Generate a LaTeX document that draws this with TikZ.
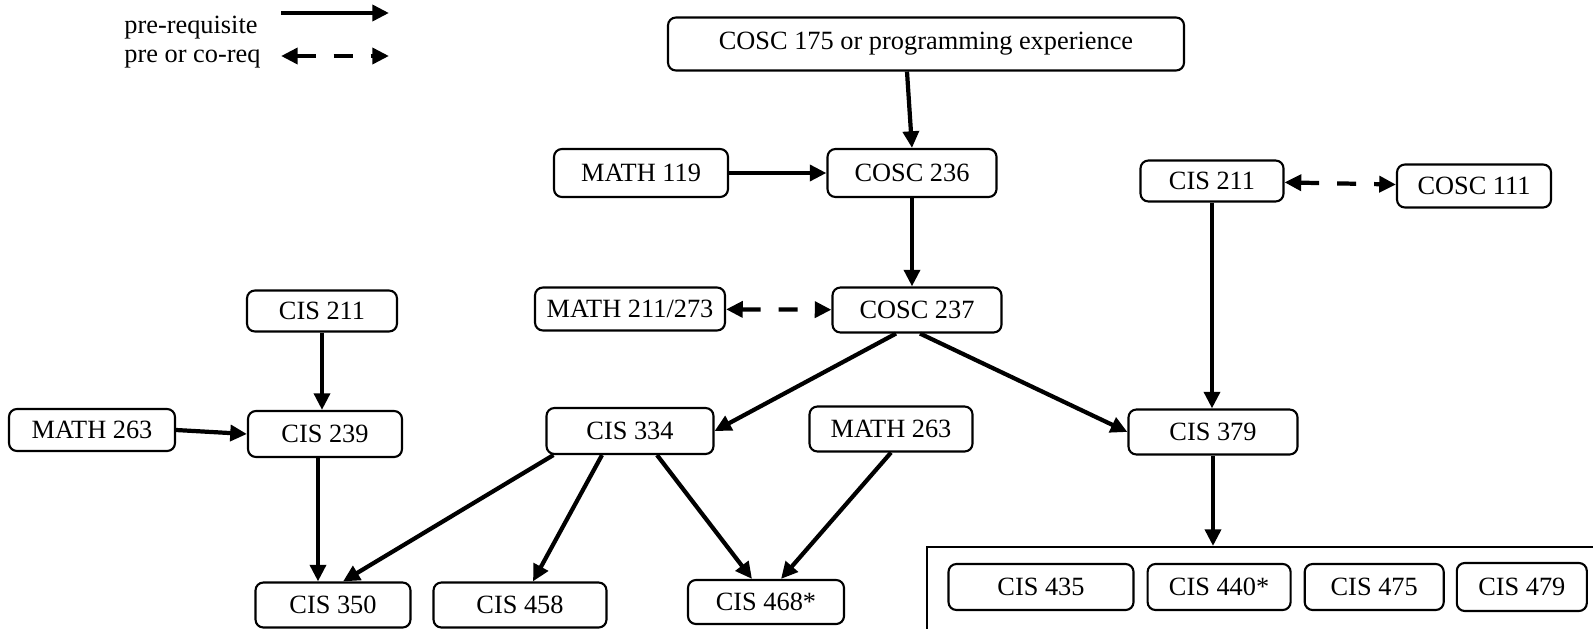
\documentclass[tikz,border=0pt]{standalone}
\usepackage{fontspec}
\setmainfont{Liberation Serif}
\usetikzlibrary{arrows.meta,positioning,calc}

\tikzset{
  course/.style 2 args={draw, rounded corners=4.5pt, line width=1.2pt, inner sep=0pt,
    minimum width=#1*0.02cm, minimum height=#2*0.02cm},
  group/.style={draw, line width=1.2pt, inner sep=0pt},
  prereq/.style={-{Triangle[length=9.5pt,width=9pt]}, line width=2.4pt},
  coreq/.style={{Triangle[length=9.5pt,width=9pt]}-{Triangle[length=9.5pt,width=9pt]},
    line width=2.4pt, dash pattern=on 0.38cm off 0.36cm},
}

\begin{document}
\begin{tikzpicture}[x=0.02cm, y=-0.02cm, font=\fontsize{15}{18}\selectfont]
  \useasboundingbox (0,0) rectangle (1593,629);

  % legend
  \node[anchor=west, inner sep=0pt] (legpre) at (124,28) {pre-requisite};
  \node[anchor=west, inner sep=0pt] (legco) at (124,59) {pre or co-req};
  \coordinate (legpreA) at (281,13);
  \coordinate (legpreB) at (389,13);
  \coordinate (legcoA) at (281,56);
  \coordinate (legcoB) at (389,56);
  \draw[prereq] (legpreA) -- (legpreB);
  \draw[coreq] (legcoA) -- (legcoB);

  % courses
  \node[course={516}{53}] (c175) at (926,44) {COSC 175 or programming experience};
  \node[course={174}{48}] (m119) at (641,173) {MATH 119};
  \node[course={169}{48}] (c236) at (912,173) {COSC 236};
  \node[course={143}{41}] (cis211r) at (1212,181) {CIS 211};
  \node[course={154}{43}] (c111) at (1474,186) {COSC 111};
  \node[course={190}{43}] (m211) at (630,309) {MATH 211/273};
  \node[course={169}{45}] (c237) at (917,310) {COSC 237};
  \node[course={150}{41}] (cis211l) at (322,311) {CIS 211};
  \node[course={166}{42}] (m263l) at (92,430) {MATH 263};
  \node[course={154}{46}] (cis239) at (325,434) {CIS 239};
  \node[course={167}{46}] (cis334) at (630,431) {CIS 334};
  \node[course={163}{45}] (m263m) at (891,429) {MATH 263};
  \node[course={169}{45}] (cis379) at (1213,432) {CIS 379};
  \node[course={155}{45}] (cis350) at (333,605) {CIS 350};
  \node[course={173}{45}] (cis458) at (520,605) {CIS 458};
  \node[course={156}{44}] (cis468) at (766,602) {CIS 468*};

  % 400-level group
  \node[group, anchor=north west, minimum width=720*0.02cm, minimum height=120*0.02cm] (grp) at (926,546) {};
  \node[course={185}{46}] (cis435) at (1041,587) {CIS 435};
  \node[course={143}{46}, right=0.24cm of cis435] (cis440) {CIS 440*};
  \node[course={139}{46}, right=0.24cm of cis440] (cis475) {CIS 475};
  \node[course={130}{48}, right=0.22cm of cis475] (cis479) {CIS 479};

  % connectors
  \draw[prereq] ($(c175.south)+(-19,0)$) -- (c236.north);
  \draw[prereq] (m119) -- (c236);
  \draw[prereq] (c236.south) -- (c236.south |- c237.north);
  \draw[coreq] (m211) -- (c237);
  \draw[coreq] (cis211r) -- (c111);
  \draw[prereq] (cis211r.south) -- (cis211r.south |- cis379.north);
  \draw[prereq] ($(c237.south)+(-21,0)$) -- (cis334.east);
  \draw[prereq] ($(c237.south)+(3,0)$) -- (cis379.west);
  \draw[prereq] (cis211l.south) -- (cis211l.south |- cis239.north);
  \draw[prereq] (m263l.east) -- (cis239.west);
  \draw[prereq] ($(cis239.south)+(-7,0)$) -- ($(cis350.north)+(-15,0)$);
  \draw[prereq] ($(cis334.south west)+(8,0)$) -- ($(cis350.north)+(10,0)$);
  \draw[prereq] ($(cis334.south)+(-28,0)$) -- ($(cis458.north)+(13,0)$);
  \draw[prereq] ($(cis334.south)+(27,0)$) -- ($(cis468.north)+(-14,0)$);
  \draw[prereq] (m263m.south) -- ($(cis468.north)+(15,0)$);
  \draw[prereq] (cis379.south) -- (cis379.south |- grp.north);
\end{tikzpicture}
\end{document}
